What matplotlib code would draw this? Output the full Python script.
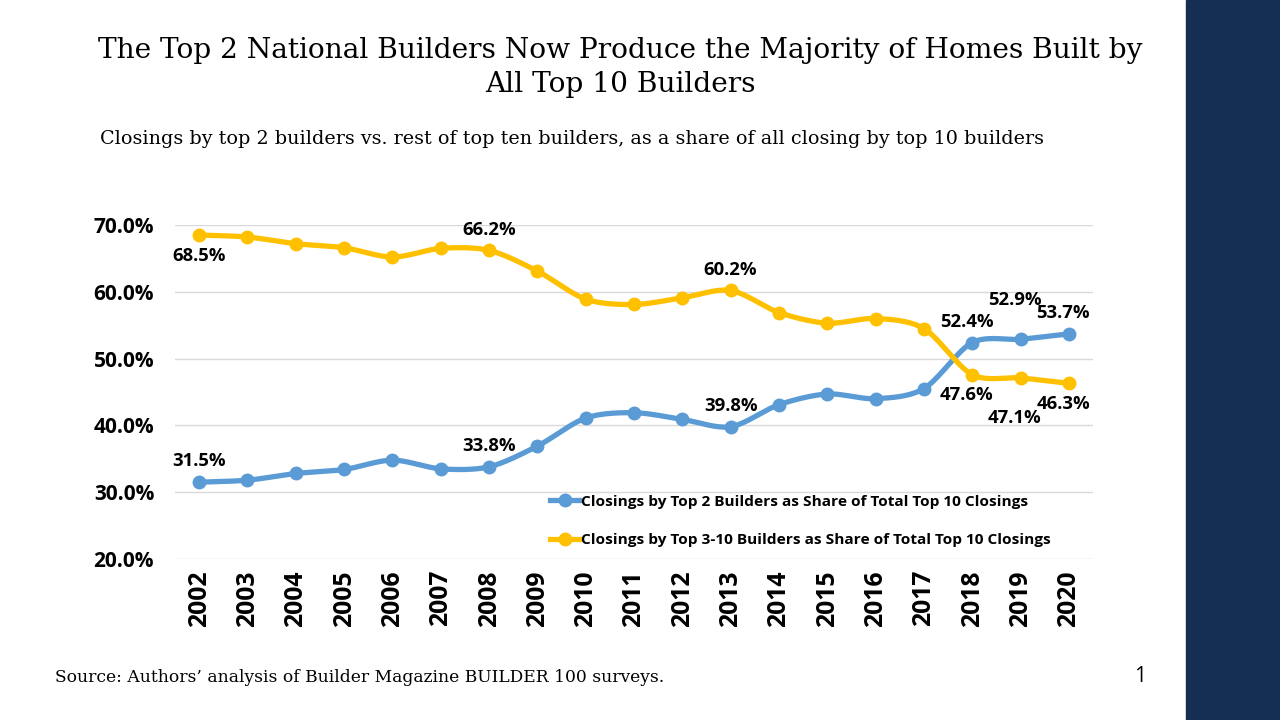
import numpy as np
import matplotlib.pyplot as plt
from matplotlib.lines import Line2D

years = [str(y) for y in range(2002, 2021)]
top2 = [31.5, 31.8, 32.8, 33.4, 34.8, 33.5, 33.8, 36.9, 41.1, 41.9, 40.9, 39.8,
        43.1, 44.7, 44.0, 45.5, 52.4, 52.9, 53.7]
rest = [68.5, 68.2, 67.2, 66.6, 65.2, 66.5, 66.2, 63.1, 58.9, 58.1, 59.1, 60.2,
        56.9, 55.3, 56.0, 54.5, 47.6, 47.1, 46.3]
blue_label_yrs = ['2002', '2008', '2013', '2018', '2019', '2020']
yellow_labels = {'2002': -1, '2008': 1, '2013': 1, '2018': -1, '2019': -1, '2020': -1}

lbl_top2 = 'Closings by Top 2 Builders as Share of Total Top 10 Closings'
lbl_rest = 'Closings by Top 3-10 Builders as Share of Total Top 10 Closings'

BLUE = '#5B9BD5'
GOLD = '#FFC000'
NAVY = '#142F52'
sans = ['Open Sans', 'DejaVu Sans']
serif = ['DejaVu Serif']


def smooth(x, y, n=20):
    # catmull-rom through the points, only for drawing the curve
    x = np.asarray(x, float)
    y = np.asarray(y, float)
    px = np.concatenate([[2*x[0]-x[1]], x, [2*x[-1]-x[-2]]])
    py = np.concatenate([[2*y[0]-y[1]], y, [2*y[-1]-y[-2]]])
    xs, ys = [], []
    t = np.linspace(0, 1, n, endpoint=False)
    for i in range(1, len(px)-2):
        for arr, out in ((px, xs), (py, ys)):
            p0, p1, p2, p3 = arr[i-1], arr[i], arr[i+1], arr[i+2]
            m1 = (p2 - p0) / 2 * 0.9
            m2 = (p3 - p1) / 2 * 0.9
            h00 = 2*t**3 - 3*t**2 + 1
            h10 = t**3 - 2*t**2 + t
            h01 = -2*t**3 + 3*t**2
            h11 = t**3 - t**2
            out.extend(h00*p1 + h10*m1 + h01*p2 + h11*m2)
    xs.append(x[-1])
    ys.append(y[-1])
    return np.array(xs), np.array(ys)


fig = plt.figure(figsize=(12.8, 7.2), dpi=100)
fig.patches.append(plt.Rectangle((1186/1280, 0), 94/1280, 1, transform=fig.transFigure,
                                 color=NAVY, zorder=0))

ax = fig.add_axes([175/1280, 1-559/720, 918/1280, 334/720])
xi = np.arange(len(years))

for vals, col in ((top2, BLUE), (rest, GOLD)):
    sx, sy = smooth(xi, vals)
    ax.plot(sx, sy, color=col, lw=3.8, solid_capstyle='round', zorder=3)
    ax.plot(xi, vals, 'o', color=col, ms=9, zorder=4)

for i, y in enumerate(years):
    dx = -4 if int(y) >= 2018 else 0
    if y in blue_label_yrs:
        off = 15
        if y == '2019':
            off = 28
        ax.annotate('%.1f%%' % top2[i], (i, top2[i]), xytext=(dx, off), textcoords='offset points',
                    ha='center', va='center', fontsize=13.3, fontweight='bold', family=sans)
    if y in yellow_labels:
        off = 15 * yellow_labels[y]
        if y == '2019':
            off = -29
        ax.annotate('%.1f%%' % rest[i], (i, rest[i]), xytext=(dx, off), textcoords='offset points',
                    ha='center', va='center', fontsize=13.3, fontweight='bold', family=sans)

ax.set_xlim(-0.5, len(years)-0.5)
ax.set_ylim(20, 70)
ax.set_yticks(np.arange(20, 71, 10))
ax.set_yticklabels(['%.1f%%' % v for v in np.arange(20, 71, 10)])
ax.set_xticks(xi)
ax.set_xticklabels(years, rotation=90)
for t in ax.get_yticklabels():
    t.set_fontweight('bold')
    t.set_fontsize(15)
    t.set_family(sans)
for t in ax.get_xticklabels():
    t.set_fontweight('bold')
    t.set_fontsize(17.8)
    t.set_family(sans)
ax.tick_params(length=0)
ax.tick_params(axis='y', pad=15)
ax.tick_params(axis='x', pad=8)
ax.grid(axis='y', color='#D9D9D9', lw=1)
ax.set_axisbelow(True)
for s in ax.spines.values():
    s.set_visible(False)

handles = [Line2D([0], [0], color=BLUE, lw=3.8, marker='o', ms=9),
           Line2D([0], [0], color=GOLD, lw=3.8, marker='o', ms=9)]
fig.legend(handles, [lbl_top2, lbl_rest], loc='center left',
           bbox_to_anchor=(536/1280, 1-521/720), frameon=False, numpoints=1,
           handlelength=1.9, handletextpad=0.1, labelspacing=1.58,
           prop={'family': sans, 'weight': 'bold', 'size': 11.1})

fig.text(620/1280, 1-50/720, 'The Top 2 National Builders Now Produce the Majority of Homes Built by',
         ha='center', va='center', fontsize=20.2, family=serif)
fig.text(620/1280, 1-85/720, 'All Top 10 Builders', ha='center', va='center', fontsize=20.2, family=serif)
fig.text(572/1280, 1-139/720, 'Closings by top 2 builders vs. rest of top ten builders, as a share of all closing by top 10 builders',
         ha='center', va='center', fontsize=13.8, family=serif)
fig.text(55/1280, 1-678/720, "Source: Authors\u2019 analysis of Builder Magazine BUILDER 100 surveys.",
         ha='left', va='center', fontsize=12.3, family=serif)
fig.text(1140/1280, 1-676/720, '1', ha='center', va='center', fontsize=15, family=sans)

fig.savefig('out.png', dpi=100)
